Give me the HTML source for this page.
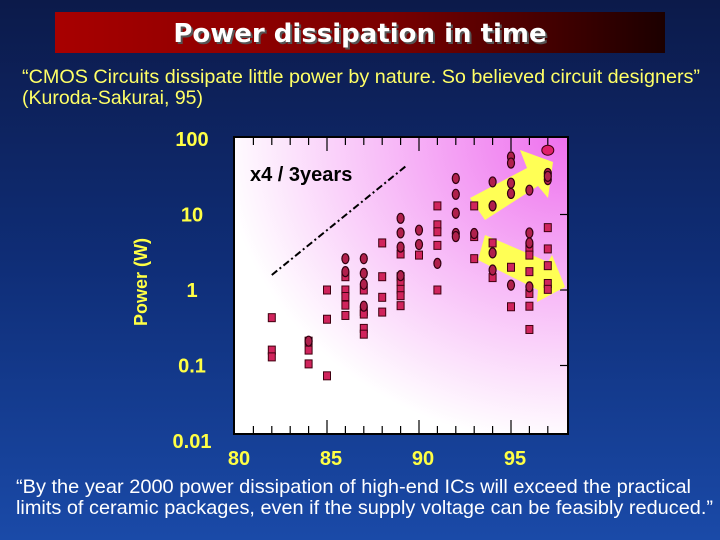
<!DOCTYPE html>
<html><head><meta charset="utf-8"><style>
html,body{margin:0;padding:0;width:720px;height:540px;overflow:hidden}
svg{display:block}
</style></head><body>
<svg width="720" height="540" xmlns="http://www.w3.org/2000/svg">
<defs>
<linearGradient id="bg" x1="0" y1="0" x2="0" y2="1">
<stop offset="0" stop-color="#0c1a4a"/><stop offset="0.5" stop-color="#0f2e78"/><stop offset="1" stop-color="#1a4aa8"/></linearGradient>
<linearGradient id="tb" x1="0" y1="0" x2="1" y2="0">
<stop offset="0" stop-color="#a80000"/><stop offset="0.55" stop-color="#7a0000"/><stop offset="1" stop-color="#1c0000"/></linearGradient>
<radialGradient id="pb" cx="1" cy="0" r="1.15">
<stop offset="0" stop-color="#ee70ee"/><stop offset="0.5" stop-color="#f8c0f8"/><stop offset="0.9" stop-color="#ffffff"/></radialGradient>
</defs>
<rect width="720" height="540" fill="url(#bg)"/>
<rect x="55" y="12" width="610" height="41" fill="url(#tb)"/>
<text x="362" y="44" text-anchor="middle" font-family="'DejaVu Sans',sans-serif" font-weight="bold" font-size="26" fill="#555">Power dissipation in time</text>
<text x="360" y="42" text-anchor="middle" font-family="'DejaVu Sans',sans-serif" font-weight="bold" font-size="26" fill="#fff">Power dissipation in time</text>
<text x="22" y="83" font-family="'Liberation Sans',sans-serif" font-size="19.5" fill="#ffff66" textLength="678" lengthAdjust="spacingAndGlyphs">“CMOS Circuits dissipate little power by nature. So believed circuit designers”</text>
<text x="22" y="104" font-family="'Liberation Sans',sans-serif" font-size="19.5" fill="#ffff66">(Kuroda-Sakurai, 95)</text>
<text x="16" y="493" font-family="'Liberation Sans',sans-serif" font-size="19.5" fill="#fff" textLength="675" lengthAdjust="spacingAndGlyphs">“By the year 2000 power dissipation of high-end ICs will exceed the practical</text>
<text x="16" y="514" font-family="'Liberation Sans',sans-serif" font-size="19.5" fill="#fff" textLength="697" lengthAdjust="spacingAndGlyphs">limits of ceramic packages, even if the supply voltage can be feasibly reduced.”</text>
<text transform="translate(147,282) rotate(-90)" text-anchor="middle" font-family="'Liberation Sans',sans-serif" font-weight="bold" font-size="18" fill="#ffff44">Power (W)</text>
<rect x="234" y="137" width="334" height="297" fill="url(#pb)" stroke="#000" stroke-width="2"/>
<g id="chart"></g>
</svg>
<script>
const yTickVals=[100,10,1,0.1,0.01];
const yTickLabels=["100","10","1","0.1","0.01"];
const xTickVals=[80,85,90,95];
const xTickLabels=["80","85","90","95"];
const squareYears=[82,82,82,84,84,84,85,85,85,86,86,86,86,86,87,87,87,87,87,88,88,88,88,89,89,89,89,89,89,90,91,91,91,91,91,93,93,93,94,94,95,95,96,96,96,96,96,96,97,97,97,97,97];
const squareVals=[0.43,0.16,0.13,0.21,0.16,0.105,1.0,0.41,0.073,1.5,1.0,0.82,0.63,0.46,1.0,0.52,0.48,0.31,0.26,4.2,1.5,0.80,0.51,3.0,1.5,1.29,1.02,0.84,0.62,2.9,13,7.3,5.9,3.9,1.0,13,5.1,2.6,4.2,1.46,2.0,0.6,3.6,2.9,1.75,0.9,0.61,0.30,6.7,3.5,2.1,1.22,1.02];
const circleYears=[84,86,86,87,87,87,87,89,89,89,89,90,90,91,92,92,92,92,92,93,94,94,94,94,95,95,95,95,95,96,96,96,96,97,97,97];
const circleVals=[0.21,2.6,1.75,2.6,1.66,1.19,0.61,8.9,5.7,3.7,1.55,6.2,4.0,2.25,30,18.5,10.4,5.6,5.1,5.6,27,13,3.1,1.84,58,48,26,19,1.16,21,5.7,4.2,1.1,35,29,32];
const bigCircle={year:97,val:71};
const trendYears=[82,89.3];
const trendVals=[1.58,44];
const NS="http://www.w3.org/2000/svg";
const X0=235,PX=18.4,Y1=290,PD=75.5;
function xs(yr){return X0+(yr-80)*PX;}
function ys(v){return Y1-PD*Math.log10(v);}
const g=document.getElementById('chart');
function mk(t,a){const e=document.createElementNS(NS,t);for(const k in a)e.setAttribute(k,a[k]);g.appendChild(e);return e;}
for(let yr=81;yr<=97;yr++){
  const major=(yr%5===0);const len=major?14:8;
  let e=mk('line',{x1:xs(yr),x2:xs(yr),y1:137,y2:137+len,stroke:'#000','stroke-width':1.2});
  
  
  e=mk('line',{x1:xs(yr),x2:xs(yr),y1:434,y2:434-len,stroke:'#000','stroke-width':1.2});
  
  
}
yTickVals.forEach((v,i)=>{
  if(i>0&&i<4){const e=mk('line',{x1:568,x2:560,y1:ys(v),y2:ys(v),stroke:'#000','stroke-width':1.2});
  
  }
  const t=mk('text',{x:192,y:ys(v)+7,'text-anchor':'middle','font-family':'Liberation Sans,sans-serif','font-weight':'bold','font-size':20,fill:'#ffff44'});
  t.textContent=yTickLabels[i];
  
  
});
xTickVals.forEach((v,i)=>{
  const t=mk('text',{x:xs(v)+4,y:465,'text-anchor':'middle','font-family':'Liberation Sans,sans-serif','font-weight':'bold','font-size':20,fill:'#ffff44'});
  t.textContent=xTickLabels[i];
  
  
});
let tl=mk('line',{x1:xs(trendYears[0]),y1:ys(trendVals[0]),x2:xs(trendYears[1]),y2:ys(trendVals[1]),stroke:'#000','stroke-width':2,'stroke-dasharray':'7 3 2 3'});


let lab=mk('text',{x:250,y:181,'font-family':'Liberation Sans,sans-serif','font-weight':'bold','font-size':20,fill:'#000'});
lab.textContent='x4 / 3years';


let a1=mk('polygon',{points:'470,198 527,168 520,150 553,162 548,198 538,186 485,220',fill:'#ffff55'});


let a2=mk('polygon',{points:'485,235 548,262 552,255 565,287 537,302 538,290 478,260',fill:'#ffff55'});


squareYears.forEach((yr,i)=>{
  const e=mk('rect',{x:xs(yr)-3.5,y:ys(squareVals[i])-4,width:7,height:8,fill:'#d0245c',stroke:'#400010','stroke-width':1});
  
  
});
circleYears.forEach((yr,i)=>{
  const e=mk('ellipse',{cx:xs(yr),cy:ys(circleVals[i]),rx:3.5,ry:5,fill:'#b0204c',stroke:'#300010','stroke-width':1.2});
  
  
});
let bc=mk('ellipse',{cx:xs(bigCircle.year),cy:ys(bigCircle.val),rx:6,ry:5,fill:'#e0206a',stroke:'#400010','stroke-width':1});


</script>
</body></html>
